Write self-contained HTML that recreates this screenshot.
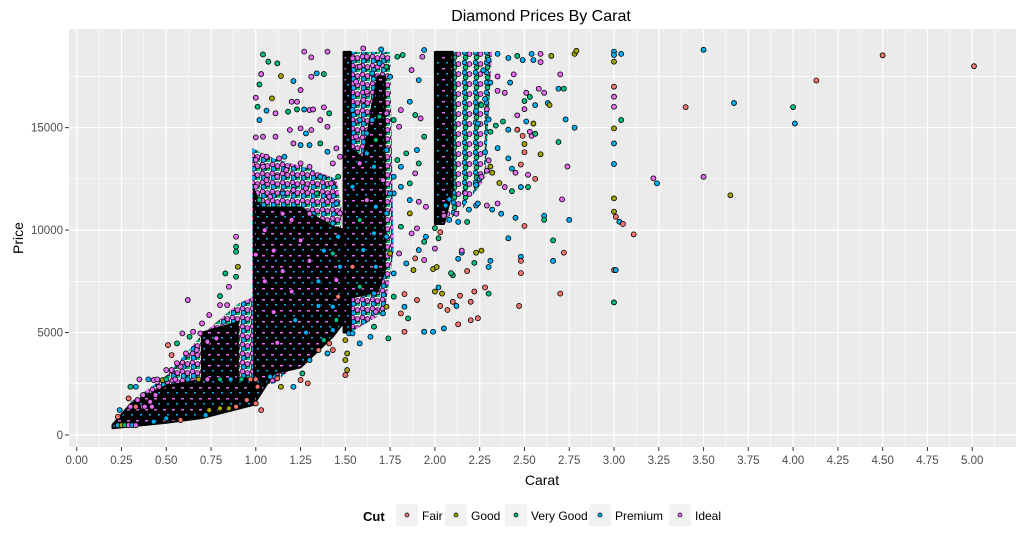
<!DOCTYPE html>
<html><head><meta charset="utf-8"><style>
body{margin:0;background:#fff;width:1024px;height:550px;overflow:hidden;font-family:"Liberation Sans",sans-serif}
svg text{font-family:"Liberation Sans",sans-serif}
</style></head><body>
<svg id="chart" width="1024" height="550" xmlns="http://www.w3.org/2000/svg">
<defs>
<pattern id="mixPink" patternUnits="userSpaceOnUse" width="10" height="9">
<circle cx="2.5" cy="2.5" r="2.4" fill="#E76BF3" stroke="#000" stroke-width="0.8"/>
<circle cx="7.5" cy="4" r="2.4" fill="#E76BF3" stroke="#000" stroke-width="0.8"/>
<circle cx="3.5" cy="7" r="2.4" fill="#00B0F6" stroke="#000" stroke-width="0.8"/>
<circle cx="8.5" cy="8.5" r="2.4" fill="#00BF7D" stroke="#000" stroke-width="0.8"/>
</pattern>
<pattern id="mixBlue" patternUnits="userSpaceOnUse" width="11" height="10">
<circle cx="2.5" cy="2.5" r="2.4" fill="#00B0F6" stroke="#000" stroke-width="0.8"/>
<circle cx="7.5" cy="4" r="2.4" fill="#E76BF3" stroke="#000" stroke-width="0.8"/>
<circle cx="3.5" cy="7.5" r="2.4" fill="#00BF7D" stroke="#000" stroke-width="0.8"/>
</pattern>
<pattern id="blackMix" patternUnits="userSpaceOnUse" width="9" height="11">
<rect width="9" height="11" fill="#000"/>
<rect x="1" y="2" width="3" height="1.5" fill="#E76BF3"/>
<rect x="5" y="7" width="2" height="1.5" fill="#00B0F6"/>
</pattern>
</defs>
<text x="541" y="21" text-anchor="middle" font-size="16" fill="#000">Diamond Prices By Carat</text>
<rect x="69" y="29" width="947" height="418" fill="#ebebeb"/>
<g id="grid"></g>
<g id="fringe"></g>
<g id="bands"></g>
<g id="pts"></g>
<g id="xaxis"></g>
<g id="yaxis"></g>
<text x="542" y="485" text-anchor="middle" font-size="14" fill="#000">Carat</text>
<text transform="translate(23,238) rotate(-90)" text-anchor="middle" font-size="14" fill="#000">Price</text>
<g id="legend">
<text x="363" y="521" font-size="13" font-weight="bold" fill="#000">Cut</text>
</g>
</svg>
<script>
const cutNames=["Fair","Good","Very Good","Premium","Ideal"];
const cutColors=["#F8766D","#A3A500","#00BF7D","#00B0F6","#E76BF3"];
const xTicks=[0,0.25,0.5,0.75,1,1.25,1.5,1.75,2,2.25,2.5,2.75,3,3.25,3.5,3.75,4,4.25,4.5,4.75,5];
const xTickLabels=["0.00","0.25","0.50","0.75","1.00","1.25","1.50","1.75","2.00","2.25","2.50","2.75","3.00","3.25","3.50","3.75","4.00","4.25","4.50","4.75","5.00"];
const yTicks=[0,5000,10000,15000];
const yMinor=[2500,7500,12500,17500];
// overplotted coloured regions, [carat, price] outlines
const pinkRegions=[
 [[0.98,2500],[0.98,14000],[1.1,13500],[1.3,13000],[1.45,12500],[1.48,11000],[1.45,5000],[1.3,4000],[1.1,2500]],
 [[0.22,600],[0.3,1600],[0.5,2900],[0.7,4900],[0.9,6400],[1.0,6800],[1.0,1500],[0.5,600]],
 [[1.53,5000],[1.72,6000],[1.77,9000],[1.75,18700],[1.53,18700]]
];
const blueRegions=[
 [[2.05,10300],[2.15,11000],[2.28,12500],[2.32,18700],[2.05,18700]]
];
// dense overplotted regions, [carat, price] outlines
const denseRegions=[
 [[0.2,330],[0.5,600],[0.7,830],[1.0,1500],[1.0,2700],[0.9,2800],[0.9,5500],[0.7,5000],[0.7,2700],[0.5,2400],[0.3,1500],[0.2,500]],
 [[0.99,1500],[1.1,3000],[1.25,3300],[1.43,4800],[1.5,5600],[1.5,10000],[1.43,10150],[1.25,11100],[1.03,11100],[0.99,11960]],
 [[1.49,5000],[1.53,5000],[1.53,18700],[1.49,18700]],
 [[1.53,6700],[1.68,7000],[1.72,8000],[1.72,17500],[1.68,17500],[1.6,13500],[1.53,14000]],
 [[2.0,10300],[2.05,10300],[2.1,12000],[2.1,18700],[2.0,18700]]
];
const diamonds=[
[1.04,18575,2],[1.07,18220,2],[1.12,18140,2],[1.27,18710,4],[1.31,18430,4],[1.4,18710,4],[1.03,17615,4],[1.02,17110,2],[1.09,16430,1],[1.14,17520,1],[1.21,17275,3],[1.25,16835,4],[1.34,17650,3],[1.38,17615,2],[1.31,17485,4],[1.0,16460,4],[1.01,16020,2],[1.02,15370,3],[1.06,15830,3],[1.11,15700,4],[1.0,14525,4],[1.04,14560,4],[1.11,14560,4],[1.2,16265,4],[1.23,16265,4],[1.18,15780,2],[1.23,15890,2],[1.27,15890,3],[1.3,15860,4],[1.32,15890,4],[1.36,15370,4],[1.41,15700,2],[1.38,15990,4],[1.4,15045,4],[1.19,14885,4],[1.25,14965,4],[1.28,14720,3],[1.31,14885,4],[1.06,13580,4],[1.0,13420,4],[1.04,13090,4],[1.13,13500,4],[1.16,13580,3],[1.21,14230,4],[1.25,14150,3],[1.3,14150,3],[1.36,14230,2],[1.4,13825,3],[1.45,13990,4],[1.47,13580,4],[1.43,13255,4],[1.46,12605,2],[1.42,12280,4],[1.36,12605,3],[1.3,13090,4],[1.25,13255,4],[1.17,12930,4],[1.12,12605,4],[1.06,12440,4],[1.0,12115,4],[1.02,11465,2],[1.08,11630,4],[1.15,11790,3],[1.21,11955,4],[1.28,12035,4],[1.34,11790,2],[1.41,11630,4],[1.45,11305,3],[1.47,10815,4],[1.43,10330,3],[1.46,9675,3],[1.43,8860,2],[1.47,8210,3],[1.45,7560,4],[1.46,6750,0],[1.43,6260,3],[1.45,5610,2],[1.43,5120,3],[1.41,4470,0],[1.43,4145,0],[1.38,4630,2],[1.4,3980,3],[1.35,4145,0],[1.3,3657,3],[1.26,3005,2],[1.29,2520,0],[1.25,2680,0],[1.21,2355,3],[1.14,2355,1],[1.12,2760,0],[1.08,2843,3],[1.03,1215,0],[1.01,2355,0],
[1.5,4630,1],[1.51,3980,1],[1.5,3657,1],[1.51,3170,1],[1.5,2925,0],[1.52,4960,3],[1.54,4960,3],[1.58,4470,3],[1.64,4795,3],[1.66,5285,2],[1.74,4715,2],[1.67,6015,4],[1.71,5935,3],[1.73,6260,1],[1.77,6750,2],[1.83,6880,0],[1.83,5040,0],[1.83,6260,3],[1.81,5935,0],[1.85,5690,2],[1.88,8050,1],[1.9,6585,0],[1.94,5040,3],[1.89,8620,0],[1.94,8540,4],
[1.79,18460,2],[1.82,18545,2],[1.87,17810,4],[1.93,18460,4],[1.94,18790,3],[1.91,17320,3],[1.86,16265,3],[1.81,15860,4],[1.77,15370,2],[1.80,15045,4],[1.89,15615,2],[1.92,15450,4],[1.94,14560,2],[1.90,13905,3],[1.84,13745,2],[1.79,13420,2],[1.81,13090,3],[1.89,12770,4],[1.91,13255,2],[1.86,12280,2],[1.77,12605,3],[1.77,11790,3],[1.81,12115,3],[1.86,11465,3],[1.91,11385,4],[1.95,11140,4],[1.86,10815,1],[1.81,10165,2],[1.90,10085,4],[1.87,9840,4],[1.95,9675,3],[1.94,9430,2],[1.91,9025,3],[1.84,8375,3],[1.80,8860,4],[1.77,7885,3],
[1.60,18870,4],[1.62,18460,4],[1.70,18820,3],[1.54,18380,4],[1.58,17975,4],[1.65,17650,3],[1.69,18140,3],[1.73,17975,2],[1.75,17485,3],[1.56,17240,4],[1.62,16755,4],[1.60,16350,4],[1.54,15860,3],[1.58,15370,3],[1.65,15370,3],[1.69,15535,2],[1.73,15700,4],[1.62,14720,3],[1.56,14560,4],[1.67,14395,2],[1.73,13905,3],[1.62,13745,3],[1.58,13255,4],[1.66,13090,3],[1.71,12440,4],[1.75,11790,3],[1.54,12115,3],[1.62,11465,4],[1.67,11140,3],[1.73,10815,3],[1.58,10490,2],[1.66,9840,3],[1.73,9675,3],[1.60,9025,3],[1.54,8210,0],[1.67,8210,3],[1.75,8860,1],[1.58,7235,2],[1.66,6910,3],
[0.62,6585,4],[0.83,7885,2],[0.89,9675,4],[0.89,9190,2],[0.89,8945,2],[0.90,8210,1],[0.89,7725,2],[0.85,7235,4],[0.80,6780,2],[0.80,6340,4],[0.84,6340,4],[0.74,5855,4],[0.70,5447,4],[0.65,5040,4],[0.59,4960,4],[0.63,4795,2],[0.51,4390,0],[0.56,4470,2],[0.53,3900,0],[0.53,3170,4],[0.48,2680,1],[0.44,1950,4],[0.37,1950,4],[0.33,2355,3],[0.30,2355,2],[0.29,1785,0],[0.34,1705,4],[0.41,1620,4],[0.24,1215,3],[0.23,890,0],
[1.0,1540,0],[0.95,1705,0],[0.89,1380,0],[0.85,1300,1],[0.80,1300,1],[0.74,1215,1],[0.72,970,3],[0.58,730,0],[0.50,810,3],[0.43,650,3],
[0.56,3500,4],[0.61,3980,4],[0.67,4145,4],[0.73,4550,4],[0.78,4715,4],[0.69,4960,4],[0.43,2680,4],[0.50,3170,4],[0.58,3330,4],[0.46,2355,4],[0.37,1380,4],
[0.35,2715,4],[0.40,2715,3],[0.45,2715,4],[0.5,2715,2],[0.55,2715,4],[0.62,2715,3],[0.68,2715,1],[0.73,2715,4],[0.8,2715,2],[0.86,2715,3],[0.92,2715,2],[0.97,2715,0],[1.0,2715,0],
[0.3,1380,4],[0.33,1380,0],[0.38,1380,4],[0.42,1380,4],
[0.23,480,3],[0.25,480,1],[0.27,480,2],[0.29,480,4],[0.31,480,3],[0.33,480,4],
[1.05,10000,4],[1.1,9000,4],[1.15,8000,4],[1.2,10500,4],[1.25,9500,4],[1.3,8500,4],[1.35,7500,3],[1.1,6000,4],[1.2,7000,4],[1.05,7500,4],[1.3,10800,4],[1.38,9000,3],[1.15,10800,4],[1.0,8800,4],[1.22,5600,3],[1.35,6300,3],[1.12,4500,4],[1.28,5000,3],
[1.94,5040,3],[1.99,5040,3],[2.05,5200,3],[2.13,5400,0],[2.2,5600,0],[2.24,5700,0],[2.2,6500,0],[2.22,7000,0],[2.28,7200,0],[2.3,6900,2],[2.14,6800,0],[2.12,6300,3],[2.07,6100,0],[2.1,6500,0],[2.02,7200,3],[2.03,6300,0],[2.0,7000,1],[2.04,6900,1],[1.99,8100,1],[2.01,8200,1],[2.1,7800,2],[2.18,8000,0],[2.3,8200,3],[2.31,8500,3],[2.22,8400,2],[2.23,8900,1],[2.15,8900,3],[2.13,8600,3],[2.41,9600,3],[2.48,8700,3],[2.48,8500,0],[2.48,7900,0],[2.47,6300,0],[2.66,9500,2],[2.66,8500,3],[2.7,6900,0],[2.72,8900,0],[2.75,10500,3],[2.61,10700,3],[2.61,10500,2],[2.45,10600,3],[2.5,10200,0],[2.37,10800,3],[2.32,11000,3],[2.29,11200,4],[2.35,11300,4],[2.23,11200,3],[2.19,11000,3],[2.24,11300,3],[2.12,10800,4],[2.08,10500,3],[2.18,10400,2],[2.13,10400,3],[2.15,9000,4],[2.26,9000,1],[2.09,7900,2],
[2.36,12300,1],[2.39,12100,4],[2.43,11900,2],[2.48,12100,3],[2.52,12100,2],[2.56,12500,0],[2.52,12700,4],[2.45,12800,4],[2.43,13000,3],[2.48,13200,0],[2.59,13700,1],[2.5,13800,0],[2.41,13500,3],[2.74,13100,4],[2.71,11500,4],[2.69,14300,2],[2.5,14200,1],[2.54,14600,4],[2.56,14700,2],[2.53,14800,4],[2.49,14600,0],[2.46,14900,0],[2.41,14900,3],[2.38,15300,2],[2.34,15100,2],[2.55,15200,1],[2.51,15300,3],[2.46,15600,4],[2.5,15900,4],[2.5,16300,2],[2.56,16100,3],[2.63,16200,3],[2.64,16100,1],[2.53,16500,2],[2.51,16700,4],[2.61,16700,4],[2.58,16900,4],[2.69,16900,3],[2.72,16900,2],[2.73,15400,3],[2.78,15000,3],[2.7,17600,4],[2.59,18600,4],[2.54,18600,3],[2.65,18500,1],[2.78,18600,1],[2.59,18200,4],[2.55,18300,3],[2.49,18300,3],[2.46,18500,2],[2.41,18400,3],[2.35,18600,3],[2.3,18300,3],[2.27,17800,3],[2.35,17500,4],[2.44,17600,4],[2.42,17200,3],[2.31,17200,3],[2.35,16800,4],[2.39,16700,4],[2.28,16400,3],[2.26,16100,2],[2.29,15900,4],[2.23,15800,3],[2.3,15400,3],[2.24,15200,3],[2.31,14800,2],[2.35,14000,3],[2.28,13800,3],[2.3,13400,4],[2.29,12900,4],[2.25,12500,3],[2.23,12200,3],[2.17,11800,4],[2.08,11500,3],[2.06,11200,3],[2.05,10700,4],[2.03,9900,0],[2.0,10100,2],[2.02,9600,2],[2.0,9100,4],[2.26,12600,4],[2.31,13100,1],[2.32,12800,1],
[2.79,18750,1],[3.0,18710,3],[3.0,18545,3],[3.0,18220,1],[3.0,17000,0],[3.0,16510,4],[3.0,16020,4],[3.04,15370,2],[3.04,18600,3],[3.0,14965,1],[3.0,14230,3],[3.0,13225,3],[3.22,12525,4],[3.24,12280,3],[3.0,11550,1],[3.0,10900,1],[3.01,10650,0],[3.03,10410,3],[3.05,10300,0],[3.11,9790,0],[3.0,8050,0],[3.01,8050,3],[3.0,6470,2],
[3.4,16000,0],[3.5,18800,3],[3.5,12600,4],[3.65,11700,1],[3.67,16200,3],[4.0,16000,2],[4.01,15200,3],[4.13,17300,0],[4.5,18530,0],[5.01,18000,0]
];
const NS="http://www.w3.org/2000/svg";
const L=69,R=1016,T=29,B=447;
function X(c){return 76.7+c*179.1;}
function Y(p){return 435-p*0.02049;}
function mk(tag,attrs,parent){const e=document.createElementNS(NS,tag);for(const k in attrs)e.setAttribute(k,attrs[k]);parent.appendChild(e);return e;}
function pts2(poly){return poly.map(q=>X(q[0])+','+Y(q[1])).join(' ');}
const grid=document.getElementById('grid');
xTicks.forEach(v=>{const mx=X(v+0.125);
 if(mx<R){const m=mk('line',{x1:mx,x2:mx,y1:T,y2:B,stroke:'#fff','stroke-width':0.6},grid);
 
 }});
yMinor.forEach(v=>{const g=mk('line',{x1:L,x2:R,y1:Y(v),y2:Y(v),stroke:'#fff','stroke-width':0.6},grid);
 
 });
xTicks.forEach(v=>{const g=mk('line',{x1:X(v),x2:X(v),y1:T,y2:B,stroke:'#fff','stroke-width':1.2},grid);
 
 });
yTicks.forEach(v=>{const g=mk('line',{x1:L,x2:R,y1:Y(v),y2:Y(v),stroke:'#fff','stroke-width':1.2},grid);
 
 });
const fringe=document.getElementById('fringe');
pinkRegions.forEach(poly=>{
 const p=mk('polygon',{points:pts2(poly),fill:'url(#mixPink)'},fringe);
 
 
});
blueRegions.forEach(poly=>{
 const p=mk('polygon',{points:pts2(poly),fill:'url(#mixBlue)'},fringe);
 
 
});
const bands=document.getElementById('bands');
denseRegions.forEach(poly=>{
 const p=mk('polygon',{points:pts2(poly),fill:'url(#blackMix)',stroke:'#000','stroke-width':2,'stroke-linejoin':'round'},bands);
 
 
});
const pts=document.getElementById('pts');
diamonds.forEach(d=>{
 const c=mk('circle',{cx:X(d[0]),cy:Y(d[1]),r:2.5,fill:cutColors[d[2]],stroke:'#000','stroke-width':0.8},pts);
 
 
});
const xa=document.getElementById('xaxis');
xTicks.forEach((v,i)=>{
 const t=mk('line',{x1:X(v),x2:X(v),y1:B,y2:B+4,stroke:'#333','stroke-width':1},xa);
 
 
 const l=mk('text',{x:X(v),y:B+17,'text-anchor':'middle','font-size':11.5,fill:'#4d4d4d'},xa);
 l.textContent=xTickLabels[i];
 
 
});
const ya=document.getElementById('yaxis');
yTicks.forEach(v=>{
 const t=mk('line',{x1:L-4,x2:L,y1:Y(v),y2:Y(v),stroke:'#333','stroke-width':1},ya);
 
 
 const l=mk('text',{x:L-6,y:Y(v)+4,'text-anchor':'end','font-size':11.5,fill:'#4d4d4d'},ya);
 l.textContent=String(v);
 
 
});
const lg=document.getElementById('legend');
const keyX=[396,445,505,589,669];
cutNames.forEach((n,i)=>{
 const g=mk('g',{},lg);
 
 
 mk('rect',{x:keyX[i],y:504,width:22,height:22,fill:'#f2f2f2'},g);
 mk('circle',{cx:keyX[i]+11,cy:515,r:2,fill:cutColors[i],stroke:'#000','stroke-width':0.7},g);
 const t=mk('text',{x:keyX[i]+26,y:520,'font-size':12,fill:'#000'},g);
 t.textContent=n;
});
</script>
</body></html>
